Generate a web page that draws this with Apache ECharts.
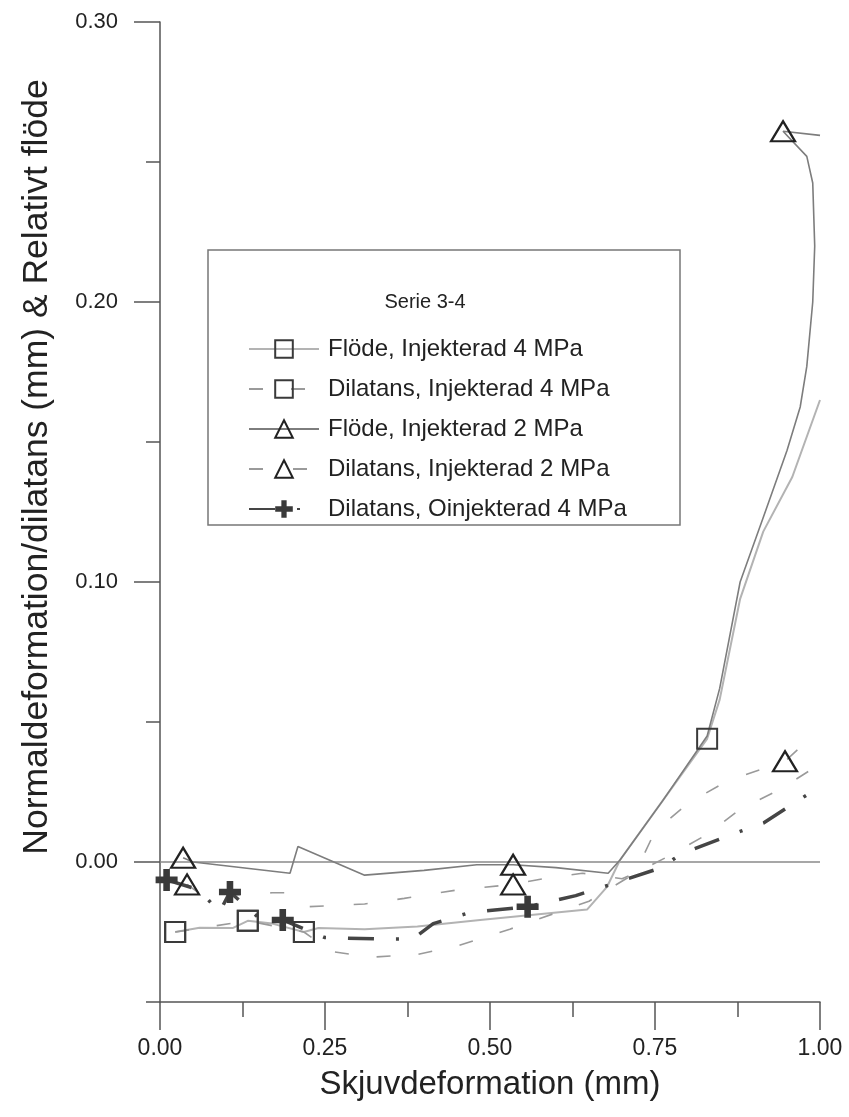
<!DOCTYPE html>
<html>
<head>
<meta charset="utf-8">
<script src="https://cdn.jsdelivr.net/npm/echarts@6.0.0/dist/echarts.min.js"></script>
<style>
html,body{margin:0;padding:0;background:#fff;}
#chart{width:849px;height:1117px;}
</style>
</head>
<body>
<div id="chart"></div>
<script>
// ---- data ----
const xTicks = [0, 0.25, 0.5, 0.75, 1.0];
const yMajorTicks = [0, 0.1, 0.2, 0.3];
const yMinorTicks = [-0.05, 0.05, 0.15, 0.25];

const seriesNames = [
  'Flöde, Injekterad 4 MPa',
  'Dilatans, Injekterad 4 MPa',
  'Flöde, Injekterad 2 MPa',
  'Dilatans, Injekterad 2 MPa',
  'Dilatans, Oinjekterad 4 MPa'
];

const floede4X = [0.023, 0.06, 0.11, 0.133, 0.17, 0.218, 0.24, 0.31, 0.39, 0.485, 0.647, 0.677, 0.697, 0.762, 0.829, 0.848, 0.879, 0.914, 0.958, 1.0];
const floede4Y = [-0.025, -0.0235, -0.0236, -0.021, -0.022, -0.025, -0.0236, -0.024, -0.023, -0.0207, -0.017, -0.009, 0.0007, 0.022, 0.044, 0.058, 0.094, 0.118, 0.1375, 0.165];
const floede4Marks = [0, 3, 5, 14];

const dil4X = [0.023, 0.133, 0.218, 0.26, 0.32, 0.39, 0.45, 0.53, 0.65, 0.72, 0.77, 0.83, 0.88, 0.94, 1.0];
const dil4Y = [-0.025, -0.021, -0.025, -0.032, -0.034, -0.033, -0.030, -0.024, -0.014, -0.004, 0.002, 0.010, 0.019, 0.026, 0.035];
const dil4Marks = [0, 1, 2];

const floede2X = [0.035, 0.05, 0.197, 0.209, 0.31, 0.40, 0.48, 0.535, 0.60, 0.679, 0.697, 0.762, 0.829, 0.848, 0.879, 0.914, 0.95, 0.97, 0.98, 0.989, 0.992, 0.989, 0.98, 0.944, 1.0];
const floede2Y = [0.0015, 0.0, -0.004, 0.0055, -0.0047, -0.003, -0.001, -0.001, -0.002, -0.004, 0.0007, 0.022, 0.045, 0.062, 0.100, 0.123, 0.147, 0.1625, 0.177, 0.200, 0.220, 0.2425, 0.252, 0.261, 0.2595];
const floede2Marks = [0, 7, 23];

const dil2X = [0.041, 0.07, 0.10, 0.17, 0.19, 0.22, 0.31, 0.37, 0.45, 0.535, 0.58, 0.64, 0.70, 0.72, 0.75, 0.80, 0.86, 0.947, 0.97, 1.0];
const dil2Y = [-0.008, -0.013, -0.012, -0.011, -0.011, -0.016, -0.015, -0.013, -0.010, -0.008, -0.006, -0.004, -0.006, -0.004, 0.011, 0.021, 0.029, 0.036, 0.041, 0.047];
const dil2Marks = [0, 9, 17];

const oinjX = [0.010, 0.06, 0.09, 0.106, 0.15, 0.186, 0.25, 0.34, 0.383, 0.414, 0.47, 0.557, 0.63, 0.67, 0.76, 0.79, 0.88, 0.915, 1.0];
const oinjY = [-0.0064, -0.010, -0.018, -0.0107, -0.020, -0.0207, -0.027, -0.0275, -0.0275, -0.022, -0.018, -0.016, -0.012, -0.009, -0.002, 0.003, 0.011, 0.014, 0.027];
const oinjMarks = [0, 3, 5, 11];

const zeroLineX = [0, 1];
const zeroLineY = [0, 0];

// ---- helpers ----
function build(xs, ys, marks) {
  return xs.map(function (x, i) {
    const item = { value: [x, ys[i]] };
    if (marks.indexOf(i) < 0) item.symbol = 'none';
    return item;
  });
}

const FONT = '"Liberation Sans", Arial, sans-serif';
const AXIS = '#555';
const crossPath = 'path://M7,0H13V7H20V13H13V20H7V13H0V7H7Z';

const chart = echarts.init(document.getElementById('chart'), null, { renderer: 'canvas' });

const option = {
  animation: false,
  backgroundColor: '#fff',
  grid: { left: 160, right: 29, top: 22, bottom: 115, containLabel: false },
  xAxis: {
    type: 'value', min: 0, max: 1, interval: 0.25,
    axisLine: { onZero: false, lineStyle: { color: AXIS, width: 1.5 } },
    axisTick: { length: 28, lineStyle: { color: AXIS, width: 1.5 } },
    minorTick: { show: true, splitNumber: 2, length: 15, lineStyle: { color: AXIS, width: 1.5 } },
    axisLabel: { margin: 35, fontSize: 23, color: '#222', fontFamily: FONT,
      formatter: function (v) { return v.toFixed(2); } },
    splitLine: { show: false }
  },
  yAxis: [
    {
      type: 'value', min: -0.05, max: 0.30, interval: 0.05, position: 'left',
      axisLine: { onZero: false, lineStyle: { color: AXIS, width: 1.5 } },
      axisTick: { length: 26, customValues: yMajorTicks, lineStyle: { color: AXIS, width: 1.5 } },
      axisLabel: { margin: 42, fontSize: 22, color: '#222', fontFamily: FONT, customValues: yMajorTicks,
        formatter: function (v) { return v.toFixed(2); } },
      splitLine: { show: false }
    },
    {
      type: 'value', min: -0.05, max: 0.30, interval: 0.05, position: 'left',
      axisLine: { show: false },
      axisTick: { length: 14, customValues: yMinorTicks, lineStyle: { color: AXIS, width: 1.5 } },
      axisLabel: { show: false },
      splitLine: { show: false }
    }
  ],
  legend: {
    data: seriesNames,
    orient: 'vertical',
    left: 243, top: 332,
    itemWidth: 70, itemHeight: 22, itemGap: 16,
    textStyle: { fontSize: 24, color: '#222', fontFamily: FONT, padding: [0, 0, 0, 4] },
    inactiveColor: '#222'
  },
  graphic: [
    { type: 'rect', z: 1, shape: { x: 208, y: 250, width: 472, height: 275 },
      style: { fill: '#fff', stroke: '#777', lineWidth: 1.5 } },
    { type: 'text', z: 5, x: 425, y: 302,
      style: { text: 'Serie 3-4', font: '20px ' + FONT, fill: '#222', textAlign: 'center', textVerticalAlign: 'middle' } },
    { type: 'text', z: 5, x: 490, y: 1085,
      style: { text: 'Skjuvdeformation (mm)', font: '33px ' + FONT, fill: '#222', textAlign: 'center', textVerticalAlign: 'middle' } },
    { type: 'text', z: 5, x: 37, y: 467, rotation: Math.PI / 2,
      style: { text: 'Normaldeformation/dilatans (mm) & Relativt flöde', font: '35.5px ' + FONT, fill: '#222', textAlign: 'center', textVerticalAlign: 'middle' } }
  ],
  series: [
    {
      name: 'zero', type: 'line', silent: true, symbol: 'none',
      data: zeroLineX.map(function (x, i) { return [x, zeroLineY[i]]; }),
      lineStyle: { color: '#8a8a8a', width: 1.5 }, z: 1
    },
    {
      name: seriesNames[0], type: 'line', symbol: 'rect', symbolSize: 20,
      data: build(floede4X, floede4Y, floede4Marks),
      lineStyle: { color: '#b3b3b3', width: 2 },
      itemStyle: { color: 'rgba(255,255,255,0)', borderColor: '#3a3a3a', borderWidth: 2 }
    },
    {
      name: seriesNames[1], type: 'line', symbol: 'rect', symbolSize: 20,
      data: build(dil4X, dil4Y, dil4Marks),
      lineStyle: { color: '#9a9a9a', width: 1.6, type: [14, 28] },
      itemStyle: { color: 'rgba(255,255,255,0)', borderColor: '#3a3a3a', borderWidth: 2 }
    },
    {
      name: seriesNames[2], type: 'line', symbol: 'triangle', symbolSize: [24, 20],
      data: build(floede2X, floede2Y, floede2Marks),
      lineStyle: { color: '#7d7d7d', width: 1.6 },
      itemStyle: { color: 'rgba(255,255,255,0)', borderColor: '#222', borderWidth: 2.2 }
    },
    {
      name: seriesNames[3], type: 'line', symbol: 'triangle', symbolSize: [24, 20],
      data: build(dil2X, dil2Y, dil2Marks),
      lineStyle: { color: '#9a9a9a', width: 1.6, type: [14, 30] },
      itemStyle: { color: 'rgba(255,255,255,0)', borderColor: '#222', borderWidth: 2.2 }
    },
    {
      name: seriesNames[4], type: 'line', symbol: crossPath, symbolSize: 22,
      data: build(oinjX, oinjY, oinjMarks),
      lineStyle: { color: '#454545', width: 3.5, type: [26, 22, 3, 22] },
      itemStyle: { color: '#3a3a3a' }
    }
  ]
};
chart.setOption(option);
</script>
</body>
</html>
